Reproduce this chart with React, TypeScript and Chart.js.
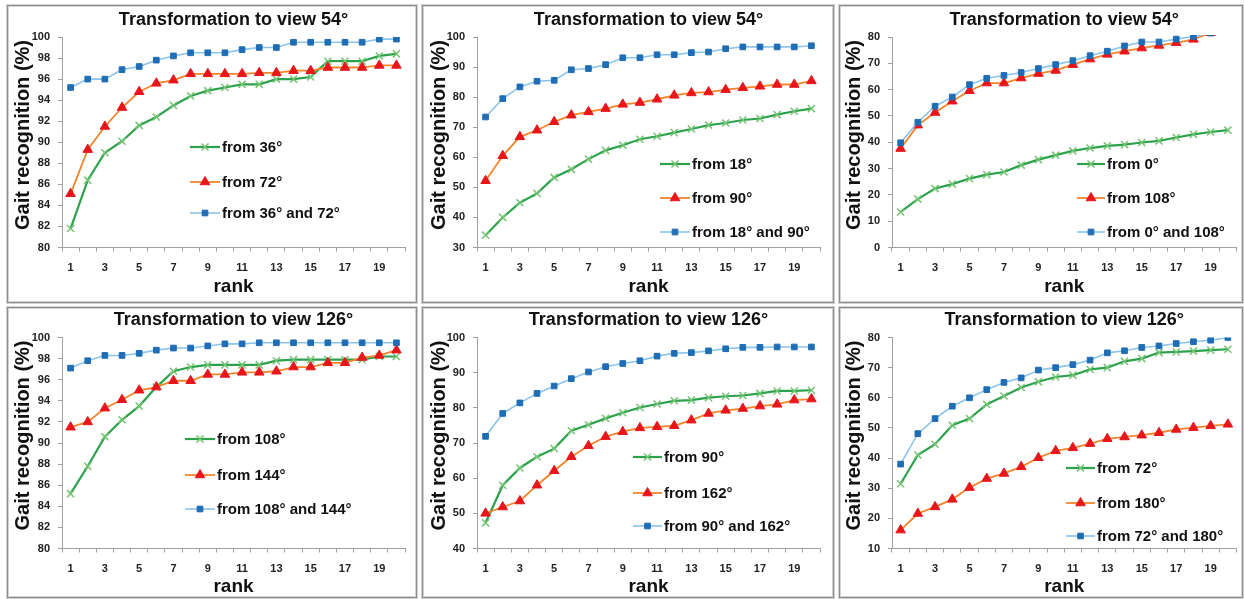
import React, { useEffect, useRef } from 'react';
import { Chart, registerables } from 'chart.js';

Chart.register(...registerables);

const FONT = '"Liberation Sans", Arial, Helvetica, sans-serif';

// ---------- data ----------
const ranks = ['1', '2', '3', '4', '5', '6', '7', '8', '9', '10', '11', '12', '13', '14', '15', '16', '17', '18', '19', '20'];

const view54Title = 'Transformation to view 54°';
const view126Title = 'Transformation to view 126°';
const yAxisTitle = 'Gait recognition (%)';
const xAxisTitle = 'rank';

// Panel A: view 54°, from 36° / 72°
const aLabels = ['from 36°', 'from 72°', 'from 36° and 72°'];
const aFrom36 = [81.8, 86.4, 89.0, 90.1, 91.6, 92.4, 93.5, 94.4, 94.9, 95.2, 95.5, 95.5, 96.0, 96.0, 96.2, 97.7, 97.7, 97.7, 98.2, 98.4];
const aFrom72 = [85.1, 89.3, 91.5, 93.3, 94.8, 95.6, 95.9, 96.5, 96.5, 96.5, 96.5, 96.6, 96.6, 96.8, 96.8, 97.1, 97.1, 97.1, 97.3, 97.3];
const aBoth = [95.2, 96.0, 96.0, 96.9, 97.2, 97.8, 98.2, 98.5, 98.5, 98.5, 98.8, 99.0, 99.0, 99.5, 99.5, 99.5, 99.5, 99.5, 99.8, 99.8];

// Panel B: view 54°, from 18° / 90°
const bLabels = ['from 18°', 'from 90°', 'from 18° and 90°'];
const bFrom18 = [34.1, 40.0, 44.9, 48.0, 53.3, 56.0, 59.4, 62.3, 64.0, 66.0, 67.0, 68.2, 69.4, 70.7, 71.4, 72.4, 72.9, 74.2, 75.3, 76.2];
const bFrom90 = [52.2, 60.5, 66.8, 69.0, 71.8, 74.0, 75.1, 76.2, 77.6, 78.2, 79.3, 80.6, 81.4, 81.7, 82.5, 83.1, 83.6, 84.2, 84.2, 85.4];
const bBoth = [73.4, 79.5, 83.4, 85.3, 85.6, 89.1, 89.5, 90.8, 93.1, 93.1, 94.1, 94.1, 94.8, 95.0, 96.1, 96.7, 96.7, 96.7, 96.7, 97.1];

// Panel C: view 54°, from 0° / 108°
const cLabels = ['from 0°', 'from 108°', 'from 0° and 108°'];
const cFrom0 = [13.5, 18.4, 22.4, 24.1, 26.2, 27.7, 28.7, 31.3, 33.4, 35.1, 36.7, 37.8, 38.6, 39.1, 39.9, 40.5, 41.8, 43.0, 43.9, 44.6];
const cFrom108 = [37.6, 46.5, 51.3, 55.6, 59.6, 62.5, 62.5, 64.4, 66.1, 67.3, 69.5, 71.6, 73.4, 74.6, 75.8, 76.8, 77.8, 79.1, 81.6, 83.0];
const cBoth = [39.8, 47.6, 53.7, 57.2, 61.9, 64.3, 65.4, 66.5, 68.0, 69.5, 71.0, 72.9, 74.6, 76.6, 78.1, 78.1, 79.2, 80.2, 81.5, 82.5];

// Panel D: view 126°, from 108° / 144°
const dLabels = ['from 108°', 'from 144°', 'from 108° and 144°'];
const dFrom108 = [85.2, 87.8, 90.6, 92.2, 93.5, 95.3, 96.8, 97.2, 97.4, 97.4, 97.4, 97.4, 97.8, 97.9, 97.9, 97.9, 97.9, 97.9, 98.2, 98.2];
const dFrom144 = [91.5, 92.0, 93.3, 94.1, 95.0, 95.3, 95.9, 95.9, 96.5, 96.5, 96.7, 96.7, 96.8, 97.2, 97.2, 97.6, 97.6, 98.1, 98.3, 98.8];
const dBoth = [97.1, 97.8, 98.3, 98.3, 98.5, 98.8, 99.0, 99.0, 99.2, 99.4, 99.4, 99.5, 99.5, 99.5, 99.5, 99.5, 99.5, 99.5, 99.5, 99.5];

// Panel E: view 126°, from 90° / 162°
const eLabels = ['from 90°', 'from 162°', 'from 90° and 162°'];
const eFrom90 = [47.3, 58.0, 62.9, 66.1, 68.4, 73.5, 75.2, 77.0, 78.6, 80.1, 81.1, 82.0, 82.2, 82.9, 83.3, 83.5, 84.1, 84.8, 84.8, 85.0];
const eFrom162 = [50.0, 51.8, 53.5, 58.0, 62.1, 66.1, 69.2, 71.8, 73.2, 74.3, 74.6, 74.9, 76.5, 78.4, 79.3, 79.8, 80.5, 81.0, 82.2, 82.5];
const eBoth = [71.9, 78.4, 81.4, 84.1, 86.2, 88.3, 90.2, 91.7, 92.6, 93.4, 94.7, 95.5, 95.7, 96.2, 96.8, 97.2, 97.2, 97.3, 97.3, 97.3];

// Panel F: view 126°, from 72° / 180°
const fLabels = ['from 72°', 'from 180°', 'from 72° and 180°'];
const fFrom72 = [31.5, 41.0, 44.6, 50.9, 53.1, 57.8, 60.6, 63.4, 65.3, 66.9, 67.5, 69.4, 70.0, 72.1, 73.0, 75.0, 75.2, 75.5, 75.8, 76.1];
const fFrom180 = [16.1, 21.6, 23.8, 26.3, 30.2, 33.2, 34.9, 37.1, 40.1, 42.4, 43.4, 44.8, 46.4, 47.0, 47.6, 48.4, 49.5, 50.1, 50.7, 51.2];
const fBoth = [38.0, 48.1, 53.1, 57.2, 60.0, 62.7, 65.1, 66.6, 69.2, 70.0, 71.0, 72.5, 74.9, 75.6, 76.7, 77.2, 78.0, 78.6, 79.1, 80.0];

// ---------- styles ----------
const SERIES_STYLES = [
  { line: '#2ca24c', lineWidth: 2.2, marker: 'crossRot', markerColor: '#74c474', markerFill: 'rgba(0,0,0,0)', radius: 5, markerBorder: 1.5 },
  { line: '#f2852a', lineWidth: 1.8, marker: 'triangle', markerColor: '#e8161b', markerFill: '#e8161b', radius: 5.5, markerBorder: 1 },
  { line: '#8cc4ea', lineWidth: 1.6, marker: 'rect', markerColor: '#1f6db5', markerFill: '#1f6db5', radius: 4, markerBorder: 1 },
];

type Box = { left: number; top: number; width: number; height: number };
type Plot = { left: number; right: number; top: number; bottom: number };
type PanelSpec = {
  title: string;
  labels: string[];
  series: number[][];
  yMin: number;
  yMax: number;
  yStep: number;
  box: Box;
  plot: Plot;
  titleY: number;
  yTitleX: number;
  yTitleY: number;
  xLabelGap: number;
  rankY: number;
  legend: { x0: number; x1: number; ys: number[] };
  clipTop?: number;
};

const col = [
  { left: 7, width: 410, plotLeft: 62, plotRight: 405, yTitleX: 23 },
  { left: 422, width: 412, plotLeft: 477, plotRight: 820, yTitleX: 439 },
  { left: 839, width: 404, plotLeft: 892, plotRight: 1237, yTitleX: 854 },
];
const row = [
  { top: 5, height: 298, plotTop: 37, plotBottom: 247.5, titleY: 20, rankY: 287 },
  { top: 307, height: 291, plotTop: 337.5, plotBottom: 548.5, titleY: 320, rankY: 586.5 },
];

function mk(c: number, r: number, rest: any): PanelSpec {
  const C = col[c];
  const R = row[r];
  return {
    box: { left: C.left, top: R.top, width: C.width, height: R.height },
    plot: { left: C.plotLeft, right: C.plotRight, top: R.plotTop, bottom: R.plotBottom },
    titleY: R.titleY,
    yTitleX: C.yTitleX,
    yTitleY: R.plotTop + 98,
    xLabelGap: 20,
    rankY: R.rankY,
    ...rest,
  };
}

const panels: PanelSpec[] = [
  mk(0, 0, { title: view54Title, labels: aLabels, series: [aFrom36, aFrom72, aBoth], yMin: 80, yMax: 100, yStep: 2, legend: { x0: 190, x1: 220, ys: [147, 182, 213] } }),
  mk(1, 0, { title: view54Title, labels: bLabels, series: [bFrom18, bFrom90, bBoth], yMin: 30, yMax: 100, yStep: 10, legend: { x0: 660, x1: 690, ys: [164, 198, 232] } }),
  mk(2, 0, { title: view54Title, labels: cLabels, series: [cFrom0, cFrom108, cBoth], yMin: 0, yMax: 80, yStep: 10, legend: { x0: 1077, x1: 1105, ys: [164, 198, 232] }, clipTop: 2 }),
  mk(0, 1, { title: view126Title, labels: dLabels, series: [dFrom108, dFrom144, dBoth], yMin: 80, yMax: 100, yStep: 2, legend: { x0: 185, x1: 215, ys: [439, 475, 509] } }),
  mk(1, 1, { title: view126Title, labels: eLabels, series: [eFrom90, eFrom162, eBoth], yMin: 40, yMax: 100, yStep: 10, legend: { x0: 633, x1: 662, ys: [457, 493, 526] } }),
  mk(2, 1, { title: view126Title, labels: fLabels, series: [fFrom72, fFrom180, fBoth], yMin: 10, yMax: 80, yStep: 10, legend: { x0: 1066, x1: 1095, ys: [468, 503, 536] } }),
];

function drawMarker(ctx: CanvasRenderingContext2D, style: string, x: number, y: number, r: number) {
  ctx.beginPath();
  if (style === 'triangle') {
    let rad = 0;
    ctx.moveTo(x + Math.sin(rad) * r, y - Math.cos(rad) * r);
    rad += (Math.PI * 2) / 3;
    ctx.lineTo(x + Math.sin(rad) * r, y - Math.cos(rad) * r);
    rad += (Math.PI * 2) / 3;
    ctx.lineTo(x + Math.sin(rad) * r, y - Math.cos(rad) * r);
    ctx.closePath();
    ctx.fill();
    ctx.stroke();
  } else if (style === 'rect') {
    const s = r * Math.SQRT1_2;
    ctx.rect(x - s, y - s, 2 * s, 2 * s);
    ctx.fill();
    ctx.stroke();
  } else {
    const o = Math.cos(Math.PI / 4) * r;
    ctx.moveTo(x - o, y - o);
    ctx.lineTo(x + o, y + o);
    ctx.moveTo(x - o, y + o);
    ctx.lineTo(x + o, y - o);
    ctx.stroke();
  }
}

const insideLegend = {
  id: 'insideLegend',
  afterDatasetsDraw(chart: any, _args: any, opts: any) {
    const ctx: CanvasRenderingContext2D = chart.ctx;
    ctx.save();
    opts.items.forEach((it: any, i: number) => {
      const y = opts.ys[i];
      const st = SERIES_STYLES[i];
      ctx.strokeStyle = st.line;
      ctx.lineWidth = st.lineWidth;
      ctx.beginPath();
      ctx.moveTo(opts.x0, y);
      ctx.lineTo(opts.x1, y);
      ctx.stroke();
      ctx.strokeStyle = st.markerColor;
      ctx.fillStyle = st.markerFill;
      ctx.lineWidth = st.markerBorder;
      drawMarker(ctx, st.marker, (opts.x0 + opts.x1) / 2, y, st.radius);
      ctx.fillStyle = '#111';
      ctx.font = `bold 15px ${FONT}`;
      ctx.textAlign = 'left';
      ctx.textBaseline = 'middle';
      ctx.fillText(it, opts.x1 + 2, y + 0.5);
    });
    // vertical axis title
    ctx.translate(opts.yTitleX, opts.yTitleY);
    ctx.rotate(-Math.PI / 2);
    ctx.fillStyle = '#111';
    ctx.font = `bold 20px ${FONT}`;
    ctx.textAlign = 'center';
    ctx.textBaseline = 'middle';
    ctx.fillText(opts.yTitle, 0, 0);
    ctx.restore();
  },
};

function Panel({ spec }: { spec: PanelSpec }) {
  const ref = useRef<HTMLCanvasElement>(null);
  const { box, plot } = spec;
  useEffect(() => {
    const canvas = ref.current;
    if (!canvas) return;
    const axisW = plot.left - box.left;
    const rightPad = box.left + box.width - plot.right;
    const topSpace = plot.top - box.top;
    const bottomSpace = box.top + box.height - plot.bottom;
    const titleLH = 18 * 1.2;
    const titlePadTop = spec.titleY - box.top - titleLH / 2;
    const titlePadBottom = topSpace - titlePadTop - titleLH;
    const rankPadBottom = box.top + box.height - spec.rankY - 9.5;
    const tickFontLH = 11 * 1.2;
    const xTickPad = spec.xLabelGap - 4 - tickFontLH / 2;

    const datasets = spec.series.map((data, i) => {
      const st = SERIES_STYLES[i];
      return {
        label: spec.labels[i],
        data,
        borderColor: st.line,
        borderWidth: st.lineWidth,
        backgroundColor: st.markerFill,
        pointStyle: st.marker,
        pointRadius: st.radius,
        pointHoverRadius: st.radius,
        pointBackgroundColor: st.markerFill,
        pointBorderColor: st.markerColor,
        pointBorderWidth: st.markerBorder,
        tension: 0,
        fill: false,
        order: 2 - i,
        clip: spec.clipTop !== undefined ? { left: 10, right: 10, bottom: 10, top: spec.clipTop } : undefined,
      };
    });

    const chart = new Chart(canvas, {
      type: 'line',
      data: { labels: ranks, datasets },
      options: {
        animation: false,
        responsive: false,
        maintainAspectRatio: false,
        devicePixelRatio: 1,
        layout: { padding: { left: 0, right: rightPad, top: 0, bottom: 0 } },
        plugins: {
          legend: { display: false },
          tooltip: { enabled: false },
          title: {
            display: true,
            text: spec.title,
            fullSize: false,
            color: '#111',
            font: { family: FONT, size: 18, weight: 'bold', lineHeight: 1.2 },
            padding: { top: titlePadTop, bottom: titlePadBottom },
          },
          insideLegend: {
            items: spec.labels,
            x0: spec.legend.x0 - box.left,
            x1: spec.legend.x1 - box.left,
            ys: spec.legend.ys.map((y) => y - box.top),
            yTitle: yAxisTitle,
            yTitleX: spec.yTitleX - box.left,
            yTitleY: spec.yTitleY - box.top,
          },
        },
        scales: {
          x: {
            type: 'category',
            offset: true,
            grid: { display: true, offset: true, drawOnChartArea: false, drawTicks: true, tickLength: 4, color: '#a0a0a0' },
            border: { display: true, color: '#a0a0a0', width: 1 },
            ticks: {
              autoSkip: false,
              maxRotation: 0,
              padding: xTickPad,
              color: '#222',
              font: { family: FONT, size: 11, weight: 'bold' },
              callback: (_v: any, i: number) => (i % 2 === 0 ? ranks[i] : ''),
            },
            title: {
              display: true,
              text: xAxisTitle,
              color: '#111',
              font: { family: FONT, size: 19, weight: 'bold', lineHeight: 1 },
              padding: { top: 0, bottom: rankPadBottom },
            },
            afterFit: (s: any) => {
              s.height = bottomSpace;
            },
          },
          y: {
            type: 'linear',
            min: spec.yMin,
            max: spec.yMax,
            grid: { display: true, drawOnChartArea: false, drawTicks: true, tickLength: 4, color: '#a0a0a0' },
            border: { display: true, color: '#a0a0a0', width: 1 },
            ticks: {
              stepSize: spec.yStep,
              padding: 8,
              color: '#222',
              font: { family: FONT, size: 11, weight: 'bold' },
            },
            title: { display: false },
            afterFit: (s: any) => {
              s.width = axisW;
            },
          },
        },
      } as any,
      plugins: [insideLegend as any],
    });
    return () => chart.destroy();
  }, [spec]);

  return (
    <>
      <canvas
        ref={ref}
        width={box.width}
        height={box.height}
        style={{ position: 'absolute', left: box.left, top: box.top, width: box.width, height: box.height }}
      />
      <div
        style={{
          position: 'absolute',
          left: box.left,
          top: box.top,
          width: box.width,
          height: box.height,
          boxSizing: 'border-box',
          border: '1px solid #8e8e8e',
          boxShadow: '0 0 0 1px #d2d2d2, inset 0 0 0 1px #d2d2d2',
          pointerEvents: 'none',
        }}
      />
    </>
  );
}

export default function App() {
  return (
    <div style={{ position: 'absolute', left: 0, top: 0, width: 1244, height: 599, background: '#fff', overflow: 'hidden' }}>
      {panels.map((p, i) => (
        <Panel key={i} spec={p} />
      ))}
    </div>
  );
}
